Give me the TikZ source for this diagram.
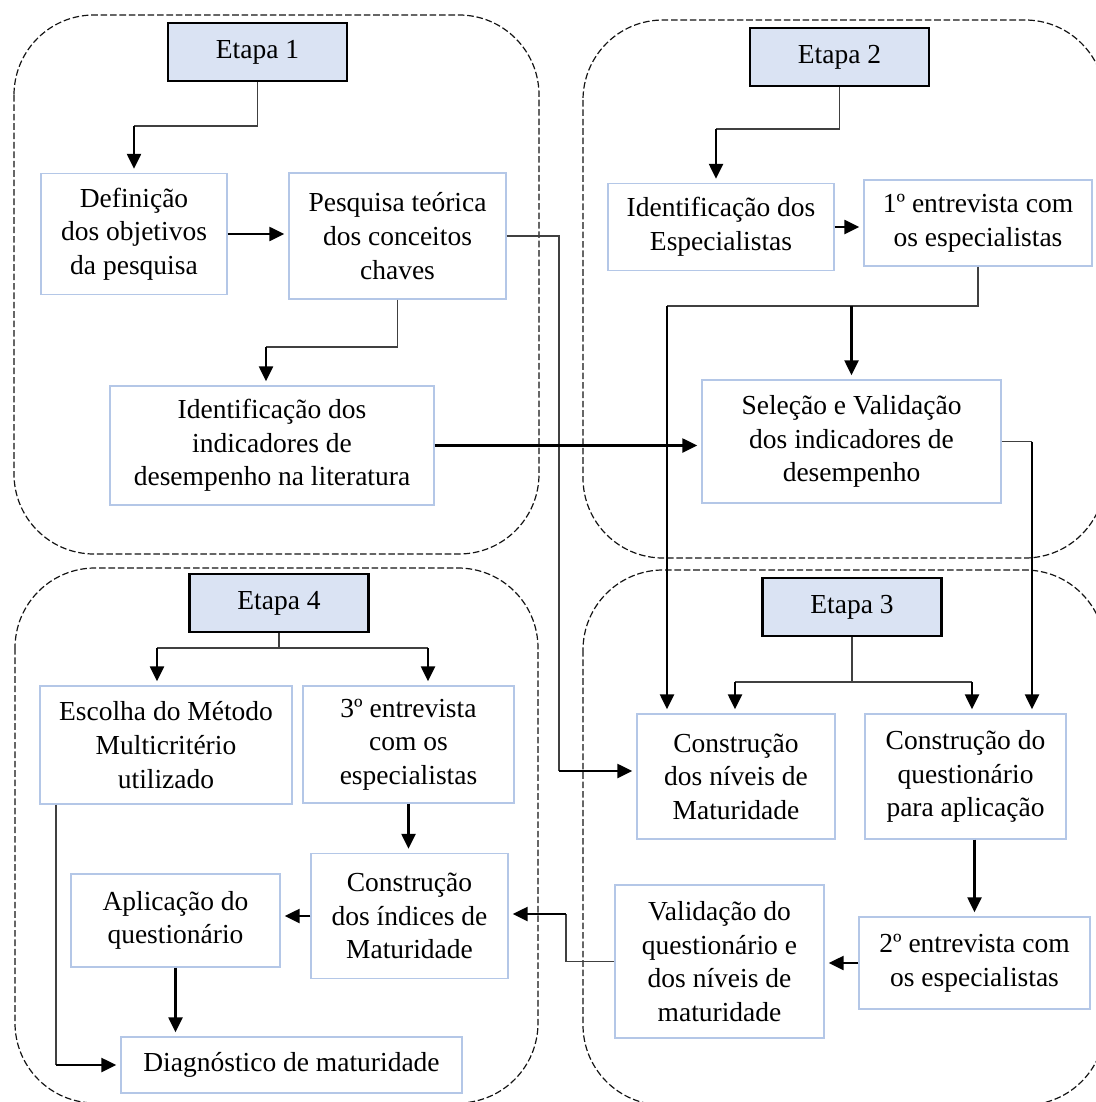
\documentclass[tikz,border=0pt]{standalone}
\usepackage{fontspec}
\setmainfont{Liberation Serif}
\usepackage{tikz}
\usetikzlibrary{arrows.meta}
\definecolor{etapafill}{RGB}{218,227,243}
\definecolor{boxline}{RGB}{180,199,231}
\definecolor{linkgray}{RGB}{64,64,64}
\definecolor{regionline}{RGB}{20,20,20}

\begin{document}
\begin{tikzpicture}[
  x=0.5pt, y=-0.5pt,
  font=\fontsize{13.75}{16.8}\selectfont,
  region/.style={draw=regionline,line width=0.6pt,dash pattern=on 3.3pt off 1.4pt,
                 rounded corners=40pt},
  etapa/.style={rectangle,draw=black,line width=1.3pt,fill=etapafill,
                minimum width=89.5pt,minimum height=29pt,inner sep=0pt},
  box/.style={rectangle,draw=boxline,line width=0.7pt,fill=white,align=center,inner sep=0pt},
  link/.style={draw=linkgray,line width=0.6pt},
  arrow/.style={-{Triangle[length=7.5pt,width=7pt]},draw=black,line width=1.2pt,shorten >=2pt}
]
\useasboundingbox (0,0) rectangle (1096,1102);

% the four stages
\draw[region] (14,15) rectangle (539,554);
\draw[region] (583,20) rectangle (1105,558);
\draw[region] (583,570) rectangle (1105,1105);
\draw[region] (15,568) rectangle (538,1103);

\node[etapa] (e1) at (257.5,52) {Etapa 1};
\node[etapa] (e2) at (839.5,57) {Etapa 2};
\node[etapa] (e3) at (852,607) {Etapa 3};
\node[etapa] (e4) at (279,603) {Etapa 4};

\node[box,minimum width=93pt,minimum height=60.5pt] (def) at (134,234) {Definição\\dos objetivos\\da pesquisa};
\node[box,minimum width=108.5pt,minimum height=63pt] (pesq) at (397.5,236) {Pesquisa teórica\\dos conceitos\\chaves};
\node[box,minimum width=162pt,minimum height=59.5pt] (indlit) at (272,445.5) {Identificação dos\\indicadores de\\desempenho na literatura};
\node[box,minimum width=113pt,minimum height=43.5pt] (esp) at (721,227) {Identificação dos\\Especialistas};
\node[box,minimum width=114pt,minimum height=43pt] (ent1) at (978,223) {1º entrevista com\\os especialistas};
\node[box,minimum width=149.5pt,minimum height=61.5pt] (selval) at (851.5,441.5) {Seleção e Validação\\dos indicadores de\\desempenho};
\node[box,minimum width=99pt,minimum height=62.5pt] (cniv) at (736,776.5) {Construção\\dos níveis de\\Maturidade};
\node[box,minimum width=100.5pt,minimum height=62.5pt] (cquest) at (965.5,776.5) {Construção do\\questionário\\para aplicação};
\node[box,minimum width=115.5pt,minimum height=46pt] (ent2) at (974.5,963) {2º entrevista com\\os especialistas};
\node[box,minimum width=104.5pt,minimum height=76.5pt] (valid) at (719.5,961.5) {Validação do\\questionário e\\dos níveis de\\maturidade};
\node[box,minimum width=126pt,minimum height=59pt] (escolha) at (166,745) {Escolha do Método\\Multicritério\\utilizado};
\node[box,minimum width=105.5pt,minimum height=58.5pt] (ent3) at (408.5,744.5) {3º entrevista\\com os\\especialistas};
\node[box,minimum width=98.5pt,minimum height=62.5pt] (cind) at (409.5,916) {Construção\\dos índices de\\Maturidade};
\node[box,minimum width=104.5pt,minimum height=46.5pt] (aplic) at (175.5,920.5) {Aplicação do\\questionário};
\node[box,minimum width=170.5pt,minimum height=28pt] (diag) at (291.5,1065) {Diagnóstico de maturidade};

% Etapa 1
\coordinate (k1) at (134,126);
\draw[link] (e1.south) |- (k1);
\draw[arrow] (k1) -- (def.north);
\draw[arrow] (def.east) -- (def.east -| pesq.west);
\coordinate (k2) at (266,347);
\draw[link] (pesq.south) |- (k2);
\draw[arrow] (k2) -- (k2 |- indlit.north);
\coordinate (k3) at (559,771);
\draw[link] (pesq.east) -| (k3);
\draw[arrow] (k3) -- (k3 -| cniv.west);
\draw[arrow] (indlit.east) -- (indlit.east -| selval.west);

% Etapa 2
\coordinate (k4) at (716,129);
\draw[link] (e2.south) |- (k4);
\draw[arrow] (k4) -- (k4 |- esp.north);
\draw[arrow] (esp.east) -- (esp.east -| ent1.west);
\coordinate (k5) at (851.5,306);
\coordinate (k6) at (667,306);
\draw[link] (ent1.south) |- (k6);
\draw[arrow] (k5) -- (selval.north);
\draw[arrow] (k6) -- (k6 |- cniv.north);
\coordinate (k7) at (1032,441.5);
\draw[link] (selval.east) -- (k7);
\draw[arrow] (k7) -- (k7 |- cquest.north);

% Etapa 3
\coordinate (k8) at (735,682);
\coordinate (k9) at (972,682);
\draw[link] (e3.south) -- (e3.south |- k8);
\draw[link] (k8) -- (k9);
\draw[arrow] (k8) -- (k8 |- cniv.north);
\draw[arrow] (k9) -- (k9 |- cquest.north);
\draw[arrow] (ent2.north |- cquest.south) -- (ent2.north);
\draw[arrow] (ent2.west) -- (ent2.west -| valid.east);
\coordinate (k10) at (566,914);
\draw[link] (valid.west) -| (k10);
\draw[arrow] (k10) -- (k10 -| cind.east);

% Etapa 4
\coordinate (k11) at (157,648);
\coordinate (k12) at (428,648);
\draw[link] (e4.south) -- (e4.south |- k11);
\draw[link] (k11) -- (k12);
\draw[arrow] (k11) -- (k11 |- escolha.north);
\draw[arrow] (k12) -- (k12 |- ent3.north);
\draw[arrow] (ent3.south) -- (ent3.south |- cind.north);
\draw[arrow] (cind.west) -- (cind.west -| aplic.east);
\draw[arrow] (aplic.south) -- (aplic.south |- diag.north);
\coordinate (k13) at (56,1065);
\draw[link] (escolha.south -| k13) -- (k13);
\draw[arrow] (k13) -- (diag.west);
\end{tikzpicture}
\end{document}
